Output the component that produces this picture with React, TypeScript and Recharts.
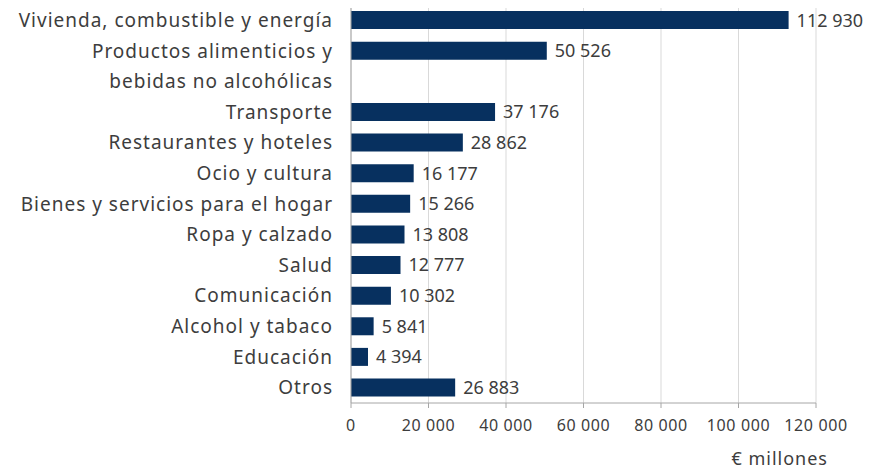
import { BarChart, Bar, XAxis, YAxis, CartesianGrid, LabelList } from 'recharts'

// '' marks the empty row used by the two-line label
const categories = [
  'Vivienda, combustible y energía',
  'Productos alimenticios y',
  '',
  'Transporte',
  'Restaurantes y hoteles',
  'Ocio y cultura',
  'Bienes y servicios para el hogar',
  'Ropa y calzado',
  'Salud',
  'Comunicación',
  'Alcohol y tabaco',
  'Educación',
  'Otros',
]
const values: (number | null)[] = [
  112930, 50526, null, 37176, 28862, 16177, 15266, 13808, 12777, 10302, 5841, 4394, 26883,
]
const xTicks = [0, 20000, 40000, 60000, 80000, 100000, 120000]
const secondLines: Record<string, string> = {
  'Productos alimenticios y': 'bebidas no alcohólicas',
}

const data = categories.map((name, i) => ({ name, value: values[i] }))

const FONT = '"Noto Sans", sans-serif'
const TEXT = '#3d3d3d'
const NAVY = '#07305f'

const fmt = (v: any) =>
  v == null || v === '' ? '' : String(v).replace(/\B(?=(\d{3})+(?!\d))/g, ' ')

const CategoryTick = (props: any) => {
  const { x, y, payload } = props
  const extra = secondLines[payload.value]
  return (
    <text
      x={x}
      y={y}
      textAnchor="end"
      fill={TEXT}
      fontSize={19}
      letterSpacing={1}
      fontFamily={FONT}
    >
      <tspan x={x} dy="0.35em">{payload.value}</tspan>
      {extra && <tspan x={x} dy={30.6}>{extra}</tspan>}
    </text>
  )
}

const UnitLabel = (props: any) => {
  const { viewBox } = props
  return (
    <text
      x={viewBox.x + viewBox.width + 12}
      y={viewBox.y + 62}
      textAnchor="end"
      fill={TEXT}
      fontSize={18}
      letterSpacing={1}
      fontFamily={FONT}
    >
      € millones
    </text>
  )
}

export default function App() {
  return (
    <div style={{ margin: -8, width: 871, height: 473, background: '#fff' }}>
      <BarChart
        width={871}
        height={473}
        data={data}
        layout="vertical"
        margin={{ top: 5, right: 55, bottom: 0, left: 0 }}
        barCategoryGap="20%"
        style={{ overflow: 'visible' }}
      >
        <CartesianGrid horizontal={false} stroke="#d9d9d9" />
        <XAxis
          type="number"
          domain={[0, 120000]}
          ticks={xTicks}
          tickFormatter={fmt}
          stroke="#a6a6a6"
          tickSize={5}
          tickMargin={12}
          height={70}
          tick={{ fill: TEXT, fontSize: 16, fontFamily: FONT, letterSpacing: 0.6 }}
          label={<UnitLabel />}
        />
        <YAxis
          type="category"
          dataKey="name"
          width={351}
          stroke="#a6a6a6"
          tickLine={false}
          tickMargin={12}
          interval={0}
          tick={<CategoryTick />}
        />
        <Bar dataKey="value" fill={NAVY} isAnimationActive={false}>
          <LabelList
            dataKey="value"
            position="right"
            offset={8}
            formatter={fmt}
            fill={TEXT}
            fontSize={18}
            fontFamily={FONT}
          />
        </Bar>
      </BarChart>
    </div>
  )
}
